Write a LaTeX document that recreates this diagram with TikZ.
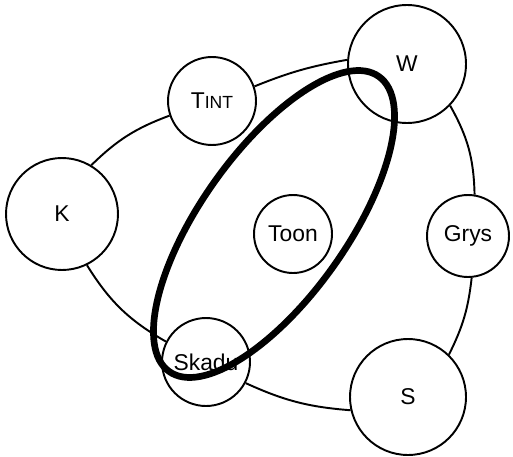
\documentclass[tikz,border=0pt]{standalone}
\usepackage{fontspec}
\setsansfont{Liberation Sans}
\usetikzlibrary{positioning}
\tikzset{
  spot/.style={draw, circle, line width=1.1pt, inner sep=0pt, font=\sffamily\fontsize{13}{15}\selectfont},
  link/.style={line width=1.1pt, bend left=#1},
  link/.default=10,
  band/.style={line width=3.8pt},
}

\begin{document}
\begin{tikzpicture}[x=0.02cm, y=-0.02cm]
  \useasboundingbox (0,0) rectangle (513,456);
  \node[spot, minimum size=2.24cm] (k) at (62,214) {K};
  \node[spot, minimum size=1.76cm] (tint) at (212,101) {T{\fontsize{10}{12}\selectfont INT}};
  \node[spot, minimum size=2.36cm] (w) at (407,64) {W};
  \node[spot, minimum size=1.64cm] (grys) at (468,236) {Grys};
  \node[spot, minimum size=2.32cm] (s) at (408,397) {S};
  \node[spot, minimum size=1.76cm] (skadu) at (206,362) {Skadu};
  \node[spot, minimum size=1.56cm] (toon) at (293,234) {Toon};
  \draw[link=12] (k.59) to (tint.199);
  \draw[link=6] (tint.19) to (w.176);
  \draw[link=14] (w.316) to (grys.81);
  \draw[link=10] (grys.275) to (s.46);
  \draw[link=10] (s.193) to (skadu.332);
  \draw[link=14] (skadu.153) to (k.296);
  \draw[band, rotate around={54.6:(274,224)}] (274,224) ellipse [x radius=3.62cm, y radius=1.46cm];
\end{tikzpicture}
\end{document}
